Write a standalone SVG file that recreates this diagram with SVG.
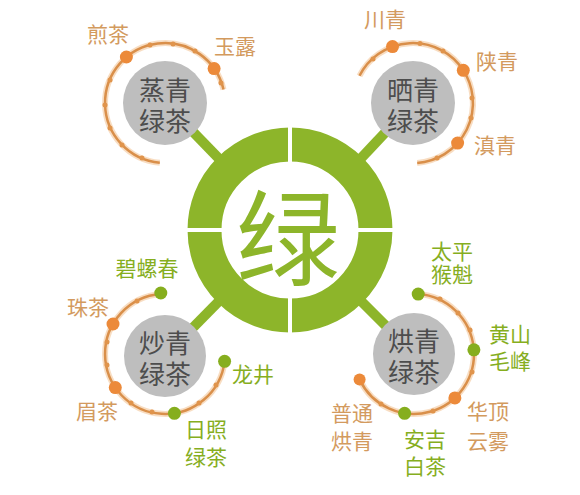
<svg xmlns="http://www.w3.org/2000/svg" width="580" height="495" viewBox="0 0 580 495">
<style>
.cjk{font-family:"Noto Sans CJK SC","Noto Sans",sans-serif;text-anchor:middle;dominant-baseline:central}
.lo{fill:#D39A5E;font-size:21px}
.lg{fill:#86AE1E;font-size:21px}
.ct{fill:#4d4d4d;font-size:26px}
.spoke{stroke:#8DB52A;stroke-width:10;fill:none}
.glow{stroke:#F3C79A;stroke-width:6;fill:none;opacity:.6}
.arc{stroke:#D98F4A;stroke-width:2.5;fill:none}
.sd{fill:#E0944C}
.bo{fill:#EC8A3A}
.bg{fill:#86AE1E}
.gc{fill:#BEBEBE}
</style>
<rect width="580" height="495" fill="#ffffff"/>
<g id="connectors">
<line class="spoke" x1="165" y1="103" x2="230" y2="170"/>
<line class="spoke" x1="413" y1="103" x2="350" y2="170"/>
<line class="spoke" x1="165" y1="356" x2="230" y2="290"/>
<line class="spoke" x1="414" y1="354" x2="350" y2="290"/>
</g>
<g id="center">
<circle cx="290" cy="230" r="85.5" fill="none" stroke="#8DB52A" stroke-width="34"/>
<line x1="290" y1="125" x2="290" y2="335" stroke="#ffffff" stroke-width="4"/>
<line x1="185" y1="230" x2="395" y2="230" stroke="#ffffff" stroke-width="4"/>
<text class="cjk" x="288" y="232" font-size="104" fill="#8DB52A">绿</text>
</g>
<g id="steam">
<path class="glow" d="M159.8 162.8 A60 60 0 1 1 223.5 89.5"/>
<path class="arc" d="M159.8 162.8 A60 60 0 1 1 223.5 89.5"/>
<circle class="sd" cx="142" cy="158" r="2.5"/>
<circle class="sd" cx="122" cy="145" r="2.5"/>
<circle class="sd" cx="110" cy="128" r="2.5"/>
<circle class="sd" cx="105" cy="105" r="2.5"/>
<circle class="sd" cx="110" cy="80" r="2.5"/>
<circle class="sd" cx="150" cy="45" r="2.5"/>
<circle class="sd" cx="173" cy="44" r="2.5"/>
<circle class="sd" cx="195" cy="51" r="2.5"/>
<circle class="sd" cx="221" cy="83" r="2.5"/>
<circle class="bo" cx="126.4" cy="57" r="6.5"/>
<circle class="bo" cx="214.1" cy="68.6" r="6.5"/>
<circle class="gc" cx="165" cy="103" r="42"/>
<text class="cjk ct" x="165" y="88">蒸青<tspan x="165" dy="31">绿茶</tspan></text>
<text class="cjk lo" x="108" y="33">煎茶</text>
<text class="cjk lo" x="235" y="45">玉露</text>
</g>
<g id="sun">
<path class="glow" d="M359.5 75.8 A60 60 0 1 1 417.2 162.9"/>
<path class="arc" d="M359.5 75.8 A60 60 0 1 1 417.2 162.9"/>
<circle class="sd" cx="373" cy="59" r="2.5"/>
<circle class="sd" cx="420" cy="43.5" r="2.5"/>
<circle class="sd" cx="443" cy="51" r="2.5"/>
<circle class="sd" cx="472" cy="98" r="2.5"/>
<circle class="sd" cx="471" cy="118" r="2.5"/>
<circle class="sd" cx="437" cy="158" r="2.5"/>
<circle class="bo" cx="392.5" cy="46.6" r="6.5"/>
<circle class="bo" cx="463.3" cy="70.3" r="6.5"/>
<circle class="bo" cx="457.6" cy="143.1" r="6.5"/>
<circle class="gc" cx="413" cy="103" r="42"/>
<text class="cjk ct" x="413" y="88">晒青<tspan x="413" dy="31">绿茶</tspan></text>
<text class="cjk lo" x="385" y="18">川青</text>
<text class="cjk lo" x="497" y="60">陕青</text>
<text class="cjk lo" x="495" y="144">滇青</text>
</g>
<g id="fry">
<path class="glow" d="M160.8 294.1 A60 60 0 1 0 224.6 361.3"/>
<path class="arc" d="M160.8 294.1 A60 60 0 1 0 224.6 361.3"/>
<circle class="sd" cx="137" cy="301" r="2.5"/>
<circle class="sd" cx="107" cy="342" r="2.5"/>
<circle class="sd" cx="107" cy="365" r="2.5"/>
<circle class="sd" cx="131" cy="403" r="2.5"/>
<circle class="sd" cx="152" cy="412" r="2.5"/>
<circle class="sd" cx="199" cy="403" r="2.5"/>
<circle class="sd" cx="216" cy="385" r="2.5"/>
<circle class="bo" cx="113" cy="324" r="6.5"/>
<circle class="bo" cx="115.3" cy="387.6" r="6.5"/>
<circle class="bg" cx="160.8" cy="293" r="6.5"/>
<circle class="bg" cx="174.4" cy="413.3" r="6.5"/>
<circle class="bg" cx="224.6" cy="361.3" r="6.5"/>
<circle class="gc" cx="165" cy="356" r="41"/>
<text class="cjk ct" x="165" y="341">炒青<tspan x="165" dy="31">绿茶</tspan></text>
<text class="cjk lg" x="147" y="267">碧螺春</text>
<text class="cjk lo" x="88" y="306">珠茶</text>
<text class="cjk lo" x="97" y="410">眉茶</text>
<text class="cjk lg" x="253" y="373">龙井</text>
<text class="cjk lg" x="206" y="428">日照<tspan x="206" dy="28">绿茶</tspan></text>
</g>
<g id="bake">
<path class="glow" d="M418.2 294.1 A60 60 0 1 1 359.6 379.4"/>
<path class="arc" d="M418.2 294.1 A60 60 0 1 1 359.6 379.4"/>
<circle class="sd" cx="440" cy="299" r="2.5"/>
<circle class="sd" cx="458" cy="313" r="2.5"/>
<circle class="sd" cx="470" cy="330" r="2.5"/>
<circle class="sd" cx="472" cy="372" r="2.5"/>
<circle class="sd" cx="433" cy="411" r="2.5"/>
<circle class="sd" cx="381" cy="404" r="2.5"/>
<circle class="bg" cx="418.2" cy="294.1" r="6.5"/>
<circle class="bg" cx="473.9" cy="349.8" r="6.5"/>
<circle class="bo" cx="454.9" cy="397.9" r="6.5"/>
<circle class="bg" cx="404.6" cy="413.3" r="6.5"/>
<circle class="bo" cx="359.6" cy="379.4" r="6"/>
<circle class="gc" cx="414" cy="354" r="41"/>
<text class="cjk ct" x="414" y="339">烘青<tspan x="414" dy="31">绿茶</tspan></text>
<text class="cjk lg" x="452" y="250">太平<tspan x="452" dy="23">猴魁</tspan></text>
<text class="cjk lg" x="510" y="333">黄山<tspan x="510" dy="27">毛峰</tspan></text>
<text class="cjk lo" x="488" y="410">华顶<tspan x="488" dy="30">云雾</tspan></text>
<text class="cjk lo" x="352" y="412">普通<tspan x="352" dy="28">烘青</tspan></text>
<text class="cjk lg" x="425" y="438">安吉<tspan x="425" dy="27">白茶</tspan></text>
</g>
</svg>
